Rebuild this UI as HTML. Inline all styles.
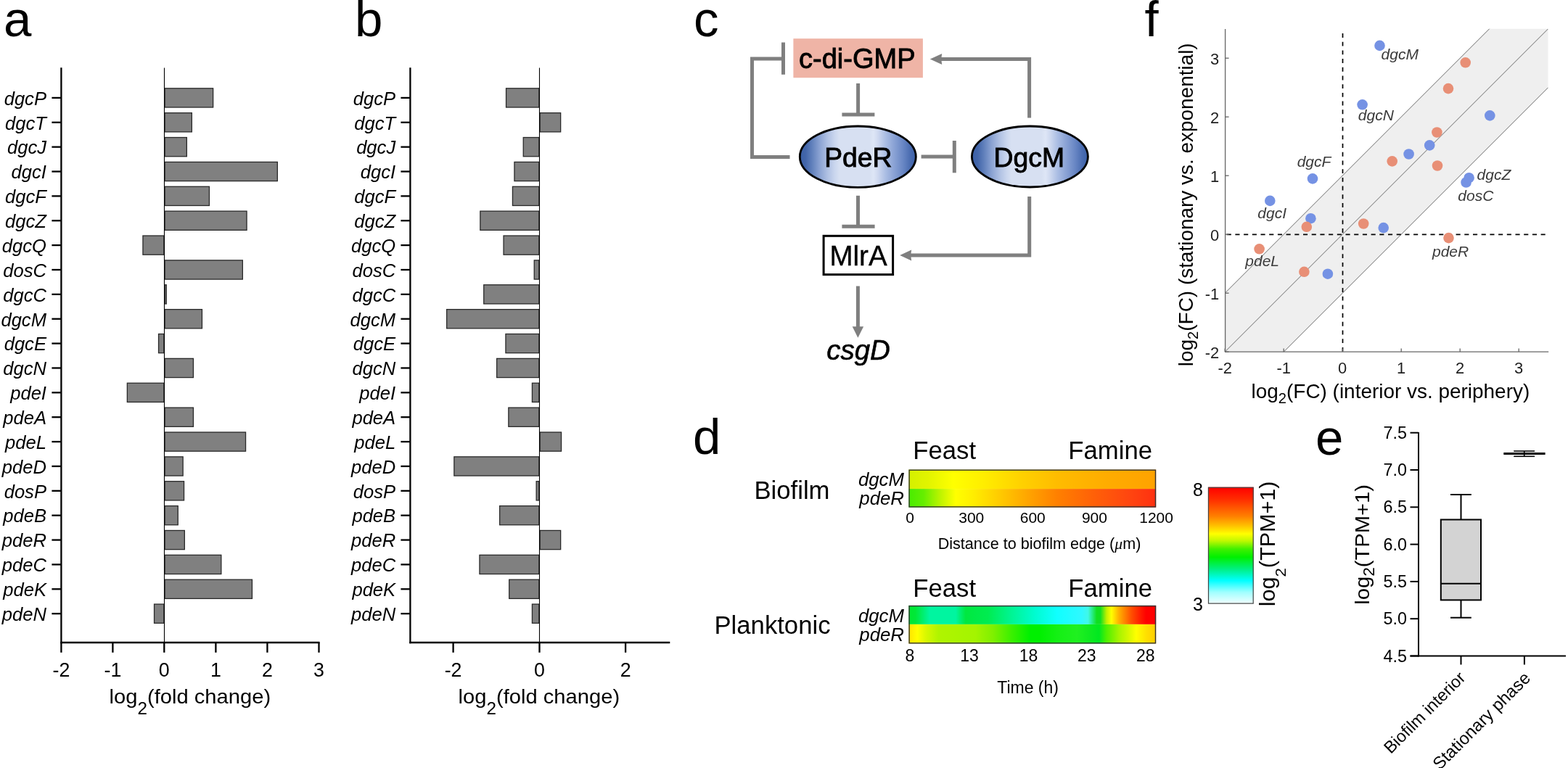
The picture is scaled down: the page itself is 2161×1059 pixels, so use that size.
<!DOCTYPE html>
<html><head><meta charset="utf-8"><title>Figure</title><style>
html,body{margin:0;padding:0;background:#fff;overflow:hidden;}
svg{display:block;}
text{font-family:"Liberation Sans",Arial,sans-serif;fill:#000;}
</style></head><body>
<svg width="2161" height="1059" viewBox="0 0 2161 1059">
<defs><linearGradient id="gbd" x1="0" y1="0" x2="1" y2="0"><stop offset="0" stop-color="#d4f000"/><stop offset="0.08" stop-color="#e2f400"/><stop offset="0.18" stop-color="#ffff00"/><stop offset="0.3" stop-color="#ffee00"/><stop offset="0.45" stop-color="#ffd200"/><stop offset="0.6" stop-color="#ffbc00"/><stop offset="0.8" stop-color="#ffac00"/><stop offset="1" stop-color="#ffa200"/></linearGradient><linearGradient id="gbp" x1="0" y1="0" x2="1" y2="0"><stop offset="0" stop-color="#48ec00"/><stop offset="0.06" stop-color="#66ee00"/><stop offset="0.13" stop-color="#c0f400"/><stop offset="0.19" stop-color="#ffff00"/><stop offset="0.26" stop-color="#ffee00"/><stop offset="0.4" stop-color="#ffc000"/><stop offset="0.5" stop-color="#ff9f00"/><stop offset="0.6" stop-color="#ff8000"/><stop offset="0.75" stop-color="#ff6008"/><stop offset="0.9" stop-color="#ff4410"/><stop offset="1" stop-color="#ff3010"/></linearGradient><linearGradient id="gpd" x1="0" y1="0" x2="1" y2="0"><stop offset="0" stop-color="#00e830"/><stop offset="0.027" stop-color="#00e838"/><stop offset="0.085" stop-color="#00f5a0"/><stop offset="0.19" stop-color="#00f5a0"/><stop offset="0.23" stop-color="#00e840"/><stop offset="0.32" stop-color="#00ec50"/><stop offset="0.41" stop-color="#00f490"/><stop offset="0.51" stop-color="#00fcd0"/><stop offset="0.6" stop-color="#10ffff"/><stop offset="0.7" stop-color="#30f8ff"/><stop offset="0.725" stop-color="#40f8e8"/><stop offset="0.76" stop-color="#10e020"/><stop offset="0.775" stop-color="#10e020"/><stop offset="0.8" stop-color="#c0f000"/><stop offset="0.82" stop-color="#ffff00"/><stop offset="0.85" stop-color="#ffb000"/><stop offset="0.875" stop-color="#ff8000"/><stop offset="0.9" stop-color="#ff5000"/><stop offset="0.94" stop-color="#ff1800"/><stop offset="0.96" stop-color="#ff0000"/><stop offset="1" stop-color="#ff0000"/></linearGradient><linearGradient id="gpp" x1="0" y1="0" x2="1" y2="0"><stop offset="0" stop-color="#ffe400"/><stop offset="0.035" stop-color="#ffff00"/><stop offset="0.07" stop-color="#d8f800"/><stop offset="0.12" stop-color="#b0f400"/><stop offset="0.27" stop-color="#a4f400"/><stop offset="0.34" stop-color="#80f000"/><stop offset="0.41" stop-color="#40f000"/><stop offset="0.49" stop-color="#00f000"/><stop offset="0.53" stop-color="#00f000"/><stop offset="0.6" stop-color="#14f014"/><stop offset="0.68" stop-color="#20f020"/><stop offset="0.73" stop-color="#10ea20"/><stop offset="0.77" stop-color="#00e820"/><stop offset="0.8" stop-color="#50f000"/><stop offset="0.85" stop-color="#a8f400"/><stop offset="0.89" stop-color="#d8f800"/><stop offset="0.92" stop-color="#ffff00"/><stop offset="0.96" stop-color="#ffe000"/><stop offset="1" stop-color="#ffcc00"/></linearGradient><linearGradient id="gcb" x1="0" y1="0" x2="0" y2="1"><stop offset="0" stop-color="#ff0000"/><stop offset="0.1" stop-color="#ff2a00"/><stop offset="0.25" stop-color="#ff8000"/><stop offset="0.33" stop-color="#ffc000"/><stop offset="0.4" stop-color="#ffff00"/><stop offset="0.46" stop-color="#c0f800"/><stop offset="0.53" stop-color="#40f000"/><stop offset="0.6" stop-color="#00f000"/><stop offset="0.7" stop-color="#00f080"/><stop offset="0.8" stop-color="#00ffff"/><stop offset="0.9" stop-color="#a0ffff"/><stop offset="1" stop-color="#f4ffff"/></linearGradient><linearGradient id="gel" x1="0" y1="0" x2="1" y2="0"><stop offset="0" stop-color="#3a5fa6"/><stop offset="0.05" stop-color="#4366aa"/><stop offset="0.1" stop-color="#5e7eba"/><stop offset="0.17" stop-color="#8aa2d2"/><stop offset="0.24" stop-color="#b0c1e3"/><stop offset="0.3" stop-color="#cad6ee"/><stop offset="0.34" stop-color="#d7e0f2"/><stop offset="0.6" stop-color="#d7e0f2"/><stop offset="0.635" stop-color="#dee6f6"/><stop offset="0.67" stop-color="#d0daf0"/><stop offset="0.74" stop-color="#aabde3"/><stop offset="0.81" stop-color="#8ba3d5"/><stop offset="0.89" stop-color="#6886c4"/><stop offset="0.95" stop-color="#4b6db1"/><stop offset="1" stop-color="#3b60a7"/></linearGradient><clipPath id="fclip"><rect x="1688.2" y="39.7" width="445.5" height="445.5"/></clipPath></defs>
<rect x="0" y="0" width="2161" height="1059" fill="#fff"/>
<text x="5" y="50" font-size="69">a</text>
<text x="489" y="50" font-size="69">b</text>
<text x="956" y="50" font-size="69">c</text>
<text x="955" y="626" font-size="69">d</text>
<text x="1813" y="627" font-size="69">e</text>
<text x="1577.5" y="50" font-size="69">f</text>
<rect x="227.15" y="121.80" width="66.50" height="26.20" fill="#808080" stroke="#2a2a2a" stroke-width="1.3"/>
<rect x="227.15" y="155.67" width="37.20" height="26.20" fill="#808080" stroke="#2a2a2a" stroke-width="1.3"/>
<rect x="227.15" y="189.54" width="30.20" height="26.20" fill="#808080" stroke="#2a2a2a" stroke-width="1.3"/>
<rect x="227.15" y="223.41" width="155.20" height="26.20" fill="#808080" stroke="#2a2a2a" stroke-width="1.3"/>
<rect x="227.15" y="257.28" width="61.30" height="26.20" fill="#808080" stroke="#2a2a2a" stroke-width="1.3"/>
<rect x="227.15" y="291.15" width="112.90" height="26.20" fill="#808080" stroke="#2a2a2a" stroke-width="1.3"/>
<rect x="196.95" y="325.02" width="28.90" height="26.20" fill="#808080" stroke="#2a2a2a" stroke-width="1.3"/>
<rect x="227.15" y="358.89" width="107.20" height="26.20" fill="#808080" stroke="#2a2a2a" stroke-width="1.3"/>
<rect x="227.15" y="392.76" width="2.10" height="26.20" fill="#808080" stroke="#2a2a2a" stroke-width="1.3"/>
<rect x="227.15" y="426.63" width="51.30" height="26.20" fill="#808080" stroke="#2a2a2a" stroke-width="1.3"/>
<rect x="218.55" y="460.50" width="7.30" height="26.20" fill="#808080" stroke="#2a2a2a" stroke-width="1.3"/>
<rect x="227.15" y="494.37" width="39.30" height="26.20" fill="#808080" stroke="#2a2a2a" stroke-width="1.3"/>
<rect x="175.35" y="528.24" width="50.50" height="26.20" fill="#808080" stroke="#2a2a2a" stroke-width="1.3"/>
<rect x="227.15" y="562.11" width="39.30" height="26.20" fill="#808080" stroke="#2a2a2a" stroke-width="1.3"/>
<rect x="227.15" y="595.98" width="111.40" height="26.20" fill="#808080" stroke="#2a2a2a" stroke-width="1.3"/>
<rect x="227.15" y="629.85" width="25.00" height="26.20" fill="#808080" stroke="#2a2a2a" stroke-width="1.3"/>
<rect x="227.15" y="663.72" width="26.40" height="26.20" fill="#808080" stroke="#2a2a2a" stroke-width="1.3"/>
<rect x="227.15" y="697.59" width="18.10" height="26.20" fill="#808080" stroke="#2a2a2a" stroke-width="1.3"/>
<rect x="227.15" y="731.46" width="27.20" height="26.20" fill="#808080" stroke="#2a2a2a" stroke-width="1.3"/>
<rect x="227.15" y="765.33" width="77.70" height="26.20" fill="#808080" stroke="#2a2a2a" stroke-width="1.3"/>
<rect x="227.15" y="799.20" width="120.30" height="26.20" fill="#808080" stroke="#2a2a2a" stroke-width="1.3"/>
<rect x="212.55" y="833.07" width="13.30" height="26.20" fill="#808080" stroke="#2a2a2a" stroke-width="1.3"/>
<line x1="226.5" y1="93.5" x2="226.5" y2="886" stroke="#000" stroke-width="1.1"/>
<line x1="84.4" y1="93.3" x2="84.4" y2="887.2" stroke="#000" stroke-width="2.3"/>
<line x1="83.30000000000001" y1="886" x2="440.6" y2="886" stroke="#000" stroke-width="2.3"/>
<line x1="71.4" y1="134.90" x2="84.4" y2="134.90" stroke="#000" stroke-width="2.3"/>
<text x="64" y="144.70" font-size="25.6" font-style="italic" text-anchor="end">dgcP</text>
<line x1="71.4" y1="168.77" x2="84.4" y2="168.77" stroke="#000" stroke-width="2.3"/>
<text x="64" y="178.57" font-size="25.6" font-style="italic" text-anchor="end">dgcT</text>
<line x1="71.4" y1="202.64" x2="84.4" y2="202.64" stroke="#000" stroke-width="2.3"/>
<text x="64" y="212.44" font-size="25.6" font-style="italic" text-anchor="end">dgcJ</text>
<line x1="71.4" y1="236.51" x2="84.4" y2="236.51" stroke="#000" stroke-width="2.3"/>
<text x="64" y="246.31" font-size="25.6" font-style="italic" text-anchor="end">dgcI</text>
<line x1="71.4" y1="270.38" x2="84.4" y2="270.38" stroke="#000" stroke-width="2.3"/>
<text x="64" y="280.18" font-size="25.6" font-style="italic" text-anchor="end">dgcF</text>
<line x1="71.4" y1="304.25" x2="84.4" y2="304.25" stroke="#000" stroke-width="2.3"/>
<text x="64" y="314.05" font-size="25.6" font-style="italic" text-anchor="end">dgcZ</text>
<line x1="71.4" y1="338.12" x2="84.4" y2="338.12" stroke="#000" stroke-width="2.3"/>
<text x="64" y="347.92" font-size="25.6" font-style="italic" text-anchor="end">dgcQ</text>
<line x1="71.4" y1="371.99" x2="84.4" y2="371.99" stroke="#000" stroke-width="2.3"/>
<text x="64" y="381.79" font-size="25.6" font-style="italic" text-anchor="end">dosC</text>
<line x1="71.4" y1="405.86" x2="84.4" y2="405.86" stroke="#000" stroke-width="2.3"/>
<text x="64" y="415.66" font-size="25.6" font-style="italic" text-anchor="end">dgcC</text>
<line x1="71.4" y1="439.73" x2="84.4" y2="439.73" stroke="#000" stroke-width="2.3"/>
<text x="64" y="449.53" font-size="25.6" font-style="italic" text-anchor="end">dgcM</text>
<line x1="71.4" y1="473.60" x2="84.4" y2="473.60" stroke="#000" stroke-width="2.3"/>
<text x="64" y="483.40" font-size="25.6" font-style="italic" text-anchor="end">dgcE</text>
<line x1="71.4" y1="507.47" x2="84.4" y2="507.47" stroke="#000" stroke-width="2.3"/>
<text x="64" y="517.27" font-size="25.6" font-style="italic" text-anchor="end">dgcN</text>
<line x1="71.4" y1="541.34" x2="84.4" y2="541.34" stroke="#000" stroke-width="2.3"/>
<text x="64" y="551.14" font-size="25.6" font-style="italic" text-anchor="end">pdeI</text>
<line x1="71.4" y1="575.21" x2="84.4" y2="575.21" stroke="#000" stroke-width="2.3"/>
<text x="64" y="585.01" font-size="25.6" font-style="italic" text-anchor="end">pdeA</text>
<line x1="71.4" y1="609.08" x2="84.4" y2="609.08" stroke="#000" stroke-width="2.3"/>
<text x="64" y="618.88" font-size="25.6" font-style="italic" text-anchor="end">pdeL</text>
<line x1="71.4" y1="642.95" x2="84.4" y2="642.95" stroke="#000" stroke-width="2.3"/>
<text x="64" y="652.75" font-size="25.6" font-style="italic" text-anchor="end">pdeD</text>
<line x1="71.4" y1="676.82" x2="84.4" y2="676.82" stroke="#000" stroke-width="2.3"/>
<text x="64" y="686.62" font-size="25.6" font-style="italic" text-anchor="end">dosP</text>
<line x1="71.4" y1="710.69" x2="84.4" y2="710.69" stroke="#000" stroke-width="2.3"/>
<text x="64" y="720.49" font-size="25.6" font-style="italic" text-anchor="end">pdeB</text>
<line x1="71.4" y1="744.56" x2="84.4" y2="744.56" stroke="#000" stroke-width="2.3"/>
<text x="64" y="754.36" font-size="25.6" font-style="italic" text-anchor="end">pdeR</text>
<line x1="71.4" y1="778.43" x2="84.4" y2="778.43" stroke="#000" stroke-width="2.3"/>
<text x="64" y="788.23" font-size="25.6" font-style="italic" text-anchor="end">pdeC</text>
<line x1="71.4" y1="812.30" x2="84.4" y2="812.30" stroke="#000" stroke-width="2.3"/>
<text x="64" y="822.10" font-size="25.6" font-style="italic" text-anchor="end">pdeK</text>
<line x1="71.4" y1="846.17" x2="84.4" y2="846.17" stroke="#000" stroke-width="2.3"/>
<text x="64" y="855.97" font-size="25.6" font-style="italic" text-anchor="end">pdeN</text>
<line x1="84.4" y1="886" x2="84.4" y2="899.8" stroke="#000" stroke-width="2.3"/>
<text x="84.4" y="933.3" font-size="26.8" text-anchor="middle">-2</text>
<line x1="155.4" y1="886" x2="155.4" y2="899.8" stroke="#000" stroke-width="2.3"/>
<text x="155.4" y="933.3" font-size="26.8" text-anchor="middle">-1</text>
<line x1="226.3" y1="886" x2="226.3" y2="899.8" stroke="#000" stroke-width="2.3"/>
<text x="226.3" y="933.3" font-size="26.8" text-anchor="middle">0</text>
<line x1="297.4" y1="886" x2="297.4" y2="899.8" stroke="#000" stroke-width="2.3"/>
<text x="297.4" y="933.3" font-size="26.8" text-anchor="middle">1</text>
<line x1="368.4" y1="886" x2="368.4" y2="899.8" stroke="#000" stroke-width="2.3"/>
<text x="368.4" y="933.3" font-size="26.8" text-anchor="middle">2</text>
<line x1="439.5" y1="886" x2="439.5" y2="899.8" stroke="#000" stroke-width="2.3"/>
<text x="439.5" y="933.3" font-size="26.8" text-anchor="middle">3</text>
<text transform="translate(150.6 969.8) scale(1.03 1)" x="0" y="0" font-size="28.3">log<tspan font-size="23.6" dy="15">2</tspan><tspan dy="-15">(fold change)</tspan></text>
<rect x="697.55" y="121.80" width="45.30" height="26.20" fill="#808080" stroke="#2a2a2a" stroke-width="1.3"/>
<rect x="744.15" y="155.67" width="28.50" height="26.20" fill="#808080" stroke="#2a2a2a" stroke-width="1.3"/>
<rect x="721.25" y="189.54" width="21.60" height="26.20" fill="#808080" stroke="#2a2a2a" stroke-width="1.3"/>
<rect x="708.95" y="223.41" width="33.90" height="26.20" fill="#808080" stroke="#2a2a2a" stroke-width="1.3"/>
<rect x="706.45" y="257.28" width="36.40" height="26.20" fill="#808080" stroke="#2a2a2a" stroke-width="1.3"/>
<rect x="661.85" y="291.15" width="81.00" height="26.20" fill="#808080" stroke="#2a2a2a" stroke-width="1.3"/>
<rect x="694.05" y="325.02" width="48.80" height="26.20" fill="#808080" stroke="#2a2a2a" stroke-width="1.3"/>
<rect x="736.25" y="358.89" width="6.60" height="26.20" fill="#808080" stroke="#2a2a2a" stroke-width="1.3"/>
<rect x="666.75" y="392.76" width="76.10" height="26.20" fill="#808080" stroke="#2a2a2a" stroke-width="1.3"/>
<rect x="615.65" y="426.63" width="127.20" height="26.20" fill="#808080" stroke="#2a2a2a" stroke-width="1.3"/>
<rect x="696.95" y="460.50" width="45.90" height="26.20" fill="#808080" stroke="#2a2a2a" stroke-width="1.3"/>
<rect x="684.65" y="494.37" width="58.20" height="26.20" fill="#808080" stroke="#2a2a2a" stroke-width="1.3"/>
<rect x="733.45" y="528.24" width="9.40" height="26.20" fill="#808080" stroke="#2a2a2a" stroke-width="1.3"/>
<rect x="700.85" y="562.11" width="42.00" height="26.20" fill="#808080" stroke="#2a2a2a" stroke-width="1.3"/>
<rect x="744.15" y="595.98" width="29.40" height="26.20" fill="#808080" stroke="#2a2a2a" stroke-width="1.3"/>
<rect x="625.85" y="629.85" width="117.00" height="26.20" fill="#808080" stroke="#2a2a2a" stroke-width="1.3"/>
<rect x="739.15" y="663.72" width="3.70" height="26.20" fill="#808080" stroke="#2a2a2a" stroke-width="1.3"/>
<rect x="688.65" y="697.59" width="54.20" height="26.20" fill="#808080" stroke="#2a2a2a" stroke-width="1.3"/>
<rect x="744.15" y="731.46" width="28.50" height="26.20" fill="#808080" stroke="#2a2a2a" stroke-width="1.3"/>
<rect x="660.95" y="765.33" width="81.90" height="26.20" fill="#808080" stroke="#2a2a2a" stroke-width="1.3"/>
<rect x="701.75" y="799.20" width="41.10" height="26.20" fill="#808080" stroke="#2a2a2a" stroke-width="1.3"/>
<rect x="733.45" y="833.07" width="9.40" height="26.20" fill="#808080" stroke="#2a2a2a" stroke-width="1.3"/>
<line x1="743.5" y1="93.5" x2="743.5" y2="886" stroke="#000" stroke-width="1.1"/>
<line x1="565.4" y1="93.3" x2="565.4" y2="887.2" stroke="#000" stroke-width="2.3"/>
<line x1="564.3" y1="886" x2="923.3000000000001" y2="886" stroke="#000" stroke-width="2.3"/>
<line x1="552.4" y1="134.90" x2="565.4" y2="134.90" stroke="#000" stroke-width="2.3"/>
<text x="545.2" y="144.70" font-size="25.6" font-style="italic" text-anchor="end">dgcP</text>
<line x1="552.4" y1="168.77" x2="565.4" y2="168.77" stroke="#000" stroke-width="2.3"/>
<text x="545.2" y="178.57" font-size="25.6" font-style="italic" text-anchor="end">dgcT</text>
<line x1="552.4" y1="202.64" x2="565.4" y2="202.64" stroke="#000" stroke-width="2.3"/>
<text x="545.2" y="212.44" font-size="25.6" font-style="italic" text-anchor="end">dgcJ</text>
<line x1="552.4" y1="236.51" x2="565.4" y2="236.51" stroke="#000" stroke-width="2.3"/>
<text x="545.2" y="246.31" font-size="25.6" font-style="italic" text-anchor="end">dgcI</text>
<line x1="552.4" y1="270.38" x2="565.4" y2="270.38" stroke="#000" stroke-width="2.3"/>
<text x="545.2" y="280.18" font-size="25.6" font-style="italic" text-anchor="end">dgcF</text>
<line x1="552.4" y1="304.25" x2="565.4" y2="304.25" stroke="#000" stroke-width="2.3"/>
<text x="545.2" y="314.05" font-size="25.6" font-style="italic" text-anchor="end">dgcZ</text>
<line x1="552.4" y1="338.12" x2="565.4" y2="338.12" stroke="#000" stroke-width="2.3"/>
<text x="545.2" y="347.92" font-size="25.6" font-style="italic" text-anchor="end">dgcQ</text>
<line x1="552.4" y1="371.99" x2="565.4" y2="371.99" stroke="#000" stroke-width="2.3"/>
<text x="545.2" y="381.79" font-size="25.6" font-style="italic" text-anchor="end">dosC</text>
<line x1="552.4" y1="405.86" x2="565.4" y2="405.86" stroke="#000" stroke-width="2.3"/>
<text x="545.2" y="415.66" font-size="25.6" font-style="italic" text-anchor="end">dgcC</text>
<line x1="552.4" y1="439.73" x2="565.4" y2="439.73" stroke="#000" stroke-width="2.3"/>
<text x="545.2" y="449.53" font-size="25.6" font-style="italic" text-anchor="end">dgcM</text>
<line x1="552.4" y1="473.60" x2="565.4" y2="473.60" stroke="#000" stroke-width="2.3"/>
<text x="545.2" y="483.40" font-size="25.6" font-style="italic" text-anchor="end">dgcE</text>
<line x1="552.4" y1="507.47" x2="565.4" y2="507.47" stroke="#000" stroke-width="2.3"/>
<text x="545.2" y="517.27" font-size="25.6" font-style="italic" text-anchor="end">dgcN</text>
<line x1="552.4" y1="541.34" x2="565.4" y2="541.34" stroke="#000" stroke-width="2.3"/>
<text x="545.2" y="551.14" font-size="25.6" font-style="italic" text-anchor="end">pdeI</text>
<line x1="552.4" y1="575.21" x2="565.4" y2="575.21" stroke="#000" stroke-width="2.3"/>
<text x="545.2" y="585.01" font-size="25.6" font-style="italic" text-anchor="end">pdeA</text>
<line x1="552.4" y1="609.08" x2="565.4" y2="609.08" stroke="#000" stroke-width="2.3"/>
<text x="545.2" y="618.88" font-size="25.6" font-style="italic" text-anchor="end">pdeL</text>
<line x1="552.4" y1="642.95" x2="565.4" y2="642.95" stroke="#000" stroke-width="2.3"/>
<text x="545.2" y="652.75" font-size="25.6" font-style="italic" text-anchor="end">pdeD</text>
<line x1="552.4" y1="676.82" x2="565.4" y2="676.82" stroke="#000" stroke-width="2.3"/>
<text x="545.2" y="686.62" font-size="25.6" font-style="italic" text-anchor="end">dosP</text>
<line x1="552.4" y1="710.69" x2="565.4" y2="710.69" stroke="#000" stroke-width="2.3"/>
<text x="545.2" y="720.49" font-size="25.6" font-style="italic" text-anchor="end">pdeB</text>
<line x1="552.4" y1="744.56" x2="565.4" y2="744.56" stroke="#000" stroke-width="2.3"/>
<text x="545.2" y="754.36" font-size="25.6" font-style="italic" text-anchor="end">pdeR</text>
<line x1="552.4" y1="778.43" x2="565.4" y2="778.43" stroke="#000" stroke-width="2.3"/>
<text x="545.2" y="788.23" font-size="25.6" font-style="italic" text-anchor="end">pdeC</text>
<line x1="552.4" y1="812.30" x2="565.4" y2="812.30" stroke="#000" stroke-width="2.3"/>
<text x="545.2" y="822.10" font-size="25.6" font-style="italic" text-anchor="end">pdeK</text>
<line x1="552.4" y1="846.17" x2="565.4" y2="846.17" stroke="#000" stroke-width="2.3"/>
<text x="545.2" y="855.97" font-size="25.6" font-style="italic" text-anchor="end">pdeN</text>
<line x1="624.6" y1="886" x2="624.6" y2="899.8" stroke="#000" stroke-width="2.3"/>
<text x="624.6" y="933.3" font-size="26.8" text-anchor="middle">-2</text>
<line x1="743.5" y1="886" x2="743.5" y2="899.8" stroke="#000" stroke-width="2.3"/>
<text x="743.5" y="933.3" font-size="26.8" text-anchor="middle">0</text>
<line x1="862.1" y1="886" x2="862.1" y2="899.8" stroke="#000" stroke-width="2.3"/>
<text x="862.1" y="933.3" font-size="26.8" text-anchor="middle">2</text>
<text transform="translate(631.6 969.8) scale(1.03 1)" x="0" y="0" font-size="28.3">log<tspan font-size="23.6" dy="15">2</tspan><tspan dy="-15">(fold change)</tspan></text>
<rect x="1093.4" y="53.2" width="178.5" height="54" fill="#efb4a6"/>
<text x="1181.3" y="94.2" font-size="38" text-anchor="middle" stroke="#000" stroke-width="0.9">c-di-GMP</text>
<path d="M1088.5 216.5 H1036.5 V81 H1079.5" fill="none" stroke="#7f7f7f" stroke-width="5"/>
<line x1="1079.5" y1="58.5" x2="1079.5" y2="102.8" stroke="#7f7f7f" stroke-width="5"/>
<line x1="1182.6" y1="115" x2="1182.6" y2="158" stroke="#7f7f7f" stroke-width="5"/>
<line x1="1160.4" y1="158" x2="1205.4" y2="158" stroke="#7f7f7f" stroke-width="5"/>
<ellipse cx="1182.3" cy="216.2" rx="80.0" ry="42.2" fill="url(#gel)" stroke="#000" stroke-width="2.8"/>
<ellipse cx="1419.4" cy="216.0" rx="80.0" ry="42.0" fill="url(#gel)" stroke="#000" stroke-width="2.8"/>
<text x="1182.8" y="229.5" font-size="37.3" text-anchor="middle" stroke="#000" stroke-width="0.9">PdeR</text>
<text x="1418.3" y="229.5" font-size="37.3" text-anchor="middle" stroke="#000" stroke-width="0.9">DgcM</text>
<line x1="1269.6" y1="216" x2="1315.3" y2="216" stroke="#7f7f7f" stroke-width="5"/>
<line x1="1315.3" y1="194" x2="1315.3" y2="238.3" stroke="#7f7f7f" stroke-width="5"/>
<path d="M1418.6 162.4 V81.5 H1296" fill="none" stroke="#7f7f7f" stroke-width="5"/>
<path d="M1281.8 81.5 L1298.2 73.9 L1297.2 81.5 L1298.2 89.1 Z" fill="#7f7f7f"/>
<line x1="1182.5" y1="269.8" x2="1182.5" y2="312.3" stroke="#7f7f7f" stroke-width="5"/>
<line x1="1160.4" y1="312.3" x2="1205.6" y2="312.3" stroke="#7f7f7f" stroke-width="5"/>
<rect x="1135.1" y="325.3" width="95.5" height="53.3" fill="#fff" stroke="#000" stroke-width="3"/>
<text x="1183" y="365.6" font-size="38.5" text-anchor="middle" stroke="#000" stroke-width="0.4">MlrA</text>
<path d="M1418.7 271 V352 H1254" fill="none" stroke="#7f7f7f" stroke-width="5"/>
<path d="M1240.2 352 L1256.2 344.4 L1255.2 352 L1256.2 359.6 Z" fill="#7f7f7f"/>
<line x1="1182.4" y1="394.5" x2="1182.4" y2="452" stroke="#7f7f7f" stroke-width="5"/>
<path d="M1182.4 465.8 L1174.7 450.3 L1190.1 450.3 Z" fill="#7f7f7f"/>
<text x="1183" y="495.9" font-size="38.5" font-style="italic" text-anchor="middle" stroke="#000" stroke-width="0.6">csgD</text>
<text x="1143.5" y="687.8" font-size="34.7" text-anchor="end">Biofilm</text>
<text x="1144.5" y="873.7" font-size="34.7" text-anchor="end">Planktonic</text>
<text x="1258.3" y="632.6" font-size="34.7">Feast</text>
<text x="1472.3" y="632.6" font-size="34.7">Famine</text>
<text x="1258.3" y="822.6" font-size="34.7">Feast</text>
<text x="1472.3" y="822.6" font-size="34.7">Famine</text>
<rect x="1252.4" y="647.5" width="340.8" height="26.6" fill="url(#gbd)"/>
<rect x="1252.4" y="674.1" width="340.8" height="25.5" fill="url(#gbp)"/>
<rect x="1253.1" y="648.2" width="339.4" height="50.7" fill="none" stroke="#333" stroke-width="1.4"/>
<text x="1246" y="669.8" font-size="25.8" font-style="italic" text-anchor="end">dgcM</text>
<text x="1246" y="695.8" font-size="25.8" font-style="italic" text-anchor="end">pdeR</text>
<text x="1254" y="720.5" font-size="21" text-anchor="middle">0</text>
<text x="1338.8" y="720.5" font-size="21" text-anchor="middle">300</text>
<text x="1423.3" y="720.5" font-size="21" text-anchor="middle">600</text>
<text x="1508.4" y="720.5" font-size="21" text-anchor="middle">900</text>
<text x="1593.6" y="720.5" font-size="21" text-anchor="middle">1200</text>
<text x="1432.5" y="756.6" font-size="21.6" text-anchor="middle">Distance to biofilm edge (<tspan font-family="Liberation Serif" font-style="italic">μ</tspan>m)</text>
<rect x="1252.4" y="834.9" width="340.8" height="26" fill="url(#gpd)"/>
<rect x="1252.4" y="860.9" width="340.8" height="26.6" fill="url(#gpp)"/>
<rect x="1253.1" y="835.6" width="339.4" height="51.2" fill="none" stroke="#333" stroke-width="1.4"/>
<text x="1246" y="857.7" font-size="25.8" font-style="italic" text-anchor="end">dgcM</text>
<text x="1246" y="883.7" font-size="25.8" font-style="italic" text-anchor="end">pdeR</text>
<text x="1254" y="912.2" font-size="23" text-anchor="middle">8</text>
<text x="1336" y="912.2" font-size="23" text-anchor="middle">13</text>
<text x="1417.6" y="912.2" font-size="23" text-anchor="middle">18</text>
<text x="1497.8" y="912.2" font-size="23" text-anchor="middle">23</text>
<text x="1578.7" y="912.2" font-size="23" text-anchor="middle">28</text>
<text x="1416.6" y="955.6" font-size="23" text-anchor="middle">Time (h)</text>
<rect x="1664.9" y="671.7" width="62.9" height="161" fill="url(#gcb)"/>
<rect x="1665.5" y="672.3" width="61.7" height="159.8" fill="none" stroke="#444" stroke-width="1.2"/>
<text x="1651" y="684.3" font-size="25" text-anchor="middle">8</text>
<text x="1651" y="841.7" font-size="25" text-anchor="middle">3</text>
<text transform="translate(1757 836.2) rotate(-90) scale(1.05 1)" font-size="29.1">log<tspan font-size="21" dy="15.2">2</tspan><tspan dy="-15.2">(TPM+1)</tspan></text>
<line x1="1955" y1="596" x2="1955" y2="905.5" stroke="#000" stroke-width="2"/>
<line x1="1943.5" y1="904.5" x2="2158" y2="904.5" stroke="#000" stroke-width="2"/>
<line x1="1943.5" y1="596.7" x2="1955" y2="596.7" stroke="#000" stroke-width="2"/>
<text x="1939" y="604.8" font-size="23.3" text-anchor="end">7.5</text>
<line x1="1943.5" y1="648.0" x2="1955" y2="648.0" stroke="#000" stroke-width="2"/>
<text x="1939" y="656.1" font-size="23.3" text-anchor="end">7.0</text>
<line x1="1943.5" y1="699.3" x2="1955" y2="699.3" stroke="#000" stroke-width="2"/>
<text x="1939" y="707.4" font-size="23.3" text-anchor="end">6.5</text>
<line x1="1943.5" y1="750.6" x2="1955" y2="750.6" stroke="#000" stroke-width="2"/>
<text x="1939" y="758.7" font-size="23.3" text-anchor="end">6.0</text>
<line x1="1943.5" y1="801.9" x2="1955" y2="801.9" stroke="#000" stroke-width="2"/>
<text x="1939" y="810.0" font-size="23.3" text-anchor="end">5.5</text>
<line x1="1943.5" y1="853.2" x2="1955" y2="853.2" stroke="#000" stroke-width="2"/>
<text x="1939" y="861.3" font-size="23.3" text-anchor="end">5.0</text>
<line x1="1943.5" y1="904.5" x2="1955" y2="904.5" stroke="#000" stroke-width="2"/>
<text x="1939" y="912.6" font-size="23.3" text-anchor="end">4.5</text>
<line x1="2013.5" y1="904.5" x2="2013.5" y2="916.5" stroke="#000" stroke-width="2"/>
<line x1="2100.9" y1="904.5" x2="2100.9" y2="916.5" stroke="#000" stroke-width="2"/>
<line x1="2013.5" y1="682" x2="2013.5" y2="851.7" stroke="#000" stroke-width="2"/>
<line x1="1999" y1="682" x2="2027.8" y2="682" stroke="#000" stroke-width="2"/>
<line x1="1999" y1="851.7" x2="2027.8" y2="851.7" stroke="#000" stroke-width="2"/>
<rect x="1985.8" y="716.5" width="55.2" height="110.9" fill="#d3d3d3" stroke="#000" stroke-width="2"/>
<line x1="1985.8" y1="804.8" x2="2041" y2="804.8" stroke="#000" stroke-width="2"/>
<line x1="2086.2" y1="622" x2="2115.1" y2="622" stroke="#000" stroke-width="1.6"/>
<line x1="2086.2" y1="629.3" x2="2115.1" y2="629.3" stroke="#000" stroke-width="1.6"/>
<line x1="2100.7" y1="622" x2="2100.7" y2="629.3" stroke="#000" stroke-width="1.6"/>
<line x1="2072.3" y1="625.5" x2="2129.6" y2="625.5" stroke="#000" stroke-width="3"/>
<text transform="translate(1886.9 833.7) rotate(-90) scale(1.03 1)" font-size="28.3">log<tspan font-size="22" dy="6.8">2</tspan><tspan dy="-6.8">(TPM+1)</tspan></text>
<text transform="translate(2021 936) rotate(-45)" font-size="23.3" text-anchor="end">Biofilm interior</text>
<text transform="translate(2110.5 936.5) rotate(-45)" font-size="23.8" text-anchor="end">Stationary phase</text>
<g clip-path="url(#fclip)">
<polygon points="1688.20,404.20 2133.70,-41.30 2133.70,120.70 1688.20,566.20" fill="#efefef"/>
<line x1="1688.20" y1="404.20" x2="2133.70" y2="-41.30" stroke="#6a6a6a" stroke-width="1"/>
<line x1="1688.20" y1="485.20" x2="2133.70" y2="39.70" stroke="#6a6a6a" stroke-width="1"/>
<line x1="1688.20" y1="566.20" x2="2133.70" y2="120.70" stroke="#6a6a6a" stroke-width="1"/>
</g>
<line x1="1850.5" y1="46" x2="1850.5" y2="485" stroke="#000" stroke-width="1.7" stroke-dasharray="5.9 5.8"/>
<line x1="1690.7" y1="323.3" x2="2130" y2="323.3" stroke="#000" stroke-width="1.7" stroke-dasharray="6.1 5.6"/>
<line x1="1688.6" y1="40.1" x2="1688.6" y2="485.7" stroke="#666" stroke-width="1.3"/>
<line x1="1688" y1="485.1" x2="2134.2" y2="485.1" stroke="#666" stroke-width="1.3"/>
<line x1="1688.20" y1="485" x2="1688.20" y2="480.5" stroke="#666" stroke-width="1.3"/>
<text x="1688.20" y="514.5" font-size="21.9" text-anchor="middle" style="fill:#1e1e1e">-2</text>
<line x1="1688.6" y1="485.20" x2="1693.6" y2="485.20" stroke="#666" stroke-width="1.3"/>
<text x="1680.2" y="493.80" font-size="21.9" text-anchor="end" style="fill:#1e1e1e">-2</text>
<line x1="1769.20" y1="485" x2="1769.20" y2="480.5" stroke="#666" stroke-width="1.3"/>
<text x="1769.20" y="514.5" font-size="21.9" text-anchor="middle" style="fill:#1e1e1e">-1</text>
<line x1="1688.6" y1="404.20" x2="1693.6" y2="404.20" stroke="#666" stroke-width="1.3"/>
<text x="1680.2" y="412.80" font-size="21.9" text-anchor="end" style="fill:#1e1e1e">-1</text>
<line x1="1850.20" y1="485" x2="1850.20" y2="480.5" stroke="#666" stroke-width="1.3"/>
<text x="1850.20" y="514.5" font-size="21.9" text-anchor="middle" style="fill:#1e1e1e">0</text>
<line x1="1688.6" y1="323.20" x2="1693.6" y2="323.20" stroke="#666" stroke-width="1.3"/>
<text x="1680.2" y="331.80" font-size="21.9" text-anchor="end" style="fill:#1e1e1e">0</text>
<line x1="1931.20" y1="485" x2="1931.20" y2="480.5" stroke="#666" stroke-width="1.3"/>
<text x="1931.20" y="514.5" font-size="21.9" text-anchor="middle" style="fill:#1e1e1e">1</text>
<line x1="1688.6" y1="242.20" x2="1693.6" y2="242.20" stroke="#666" stroke-width="1.3"/>
<text x="1680.2" y="250.80" font-size="21.9" text-anchor="end" style="fill:#1e1e1e">1</text>
<line x1="2012.20" y1="485" x2="2012.20" y2="480.5" stroke="#666" stroke-width="1.3"/>
<text x="2012.20" y="514.5" font-size="21.9" text-anchor="middle" style="fill:#1e1e1e">2</text>
<line x1="1688.6" y1="161.20" x2="1693.6" y2="161.20" stroke="#666" stroke-width="1.3"/>
<text x="1680.2" y="169.80" font-size="21.9" text-anchor="end" style="fill:#1e1e1e">2</text>
<line x1="2093.20" y1="485" x2="2093.20" y2="480.5" stroke="#666" stroke-width="1.3"/>
<text x="2093.20" y="514.5" font-size="21.9" text-anchor="middle" style="fill:#1e1e1e">3</text>
<line x1="1688.6" y1="80.20" x2="1693.6" y2="80.20" stroke="#666" stroke-width="1.3"/>
<text x="1680.2" y="88.80" font-size="21.9" text-anchor="end" style="fill:#1e1e1e">3</text>
<circle cx="1901.5" cy="62.9" r="7.3" fill="#7592e4"/>
<circle cx="1877.6" cy="144.3" r="7.3" fill="#7592e4"/>
<circle cx="1809.0" cy="246.4" r="7.3" fill="#7592e4"/>
<circle cx="2019.7" cy="86.3" r="7.3" fill="#e88f76"/>
<circle cx="1996.0" cy="122.1" r="7.3" fill="#e88f76"/>
<circle cx="2053.3" cy="159.4" r="7.3" fill="#7592e4"/>
<circle cx="1980.4" cy="182.5" r="7.3" fill="#e88f76"/>
<circle cx="1970.2" cy="200.4" r="7.3" fill="#7592e4"/>
<circle cx="1941.6" cy="212.5" r="7.3" fill="#7592e4"/>
<circle cx="1918.7" cy="222.4" r="7.3" fill="#e88f76"/>
<circle cx="1981.0" cy="228.5" r="7.3" fill="#e88f76"/>
<circle cx="2020.6" cy="251.5" r="7.3" fill="#7592e4"/>
<circle cx="2024.6" cy="245.2" r="7.3" fill="#7592e4"/>
<circle cx="1750.3" cy="276.9" r="7.3" fill="#7592e4"/>
<circle cx="1806.4" cy="301.2" r="7.3" fill="#7592e4"/>
<circle cx="1800.8" cy="312.8" r="7.3" fill="#e88f76"/>
<circle cx="1879.2" cy="308.5" r="7.3" fill="#e88f76"/>
<circle cx="1906.7" cy="314.1" r="7.3" fill="#7592e4"/>
<circle cx="1735.6" cy="343.3" r="7.3" fill="#e88f76"/>
<circle cx="1797.4" cy="374.8" r="7.3" fill="#e88f76"/>
<circle cx="1829.9" cy="377.7" r="7.3" fill="#7592e4"/>
<circle cx="1996.5" cy="328.1" r="7.3" fill="#e88f76"/>
<text x="1903.6" y="81.6" font-size="21" font-style="italic" style="fill:#3a3a3a">dgcM</text>
<text x="1871.8" y="165.7" font-size="21" font-style="italic" style="fill:#3a3a3a">dgcN</text>
<text x="1787.7" y="230" font-size="21" font-style="italic" style="fill:#3a3a3a">dgcF</text>
<text x="2035.6" y="247.5" font-size="21" font-style="italic" style="fill:#3a3a3a">dgcZ</text>
<text x="2009.3" y="277" font-size="21" font-style="italic" style="fill:#3a3a3a">dosC</text>
<text x="1733.3" y="301.2" font-size="21" font-style="italic" style="fill:#3a3a3a">dgcI</text>
<text x="1716.3" y="366.6" font-size="21" font-style="italic" style="fill:#3a3a3a">pdeL</text>
<text x="1974" y="354.3" font-size="21" font-style="italic" style="fill:#3a3a3a">pdeR</text>
<text transform="translate(1724.5 548.9) scale(1.02 1)" font-size="27.4">log<tspan font-size="19.8" dy="7">2</tspan><tspan dy="-7">(FC) (interior vs. periphery)</tspan></text>
<text transform="translate(1644.2 505.2) rotate(-90) scale(1.02 1)" font-size="27.4">log<tspan font-size="19.8" dy="7">2</tspan><tspan dy="-7">(FC) (stationary vs. exponential)</tspan></text>
</svg></body></html>
